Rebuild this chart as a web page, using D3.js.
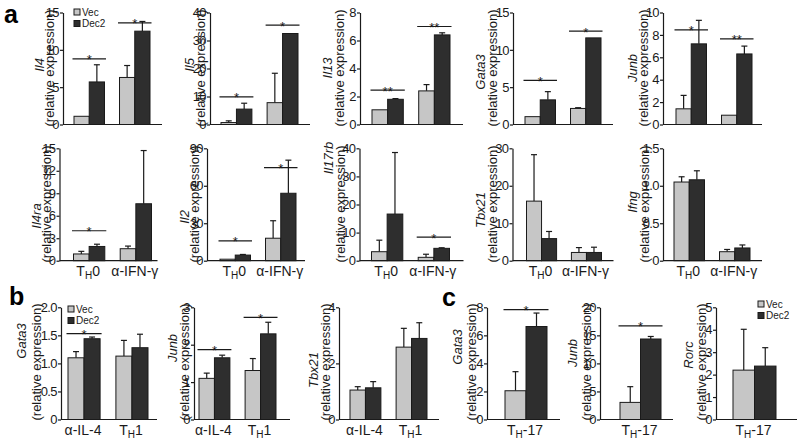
<!DOCTYPE html>
<html><head><meta charset="utf-8">
<script src="https://cdn.jsdelivr.net/npm/d3@7"></script>
<style>
body{margin:0;background:#fff;}
svg{display:block;font-family:"Liberation Sans",Arial,sans-serif;}
</style></head><body>
<svg id="chart" width="800" height="448"></svg>
<script>
// ---------- DATA ----------
const series = ["Vec", "Dec2"];
const groupsA = ["TH0", "α-IFN-γ"];
const groupsB = ["α-IL-4", "TH1"];
const groupsC = ["TH-17"];
const genes = ["Il4","Il5","Il13","Gata3","Junb","Il4ra","Il2","Il17rb","Tbx21","Ifng","Gata3","Junb","Tbx21","Gata3","Junb","Rorc"];
const panelGroups = [groupsA,groupsA,groupsA,groupsA,groupsA,groupsA,groupsA,groupsA,groupsA,groupsA,groupsB,groupsB,groupsB,groupsC,groupsC,groupsC];
const vecMean = [[1.1,6.3],[0.7,7.8],[1.05,2.4],[1.05,2.15],[1.4,0.83],[0.9,1.6],[1.2,18],[3.2,1.2],[15.9,2.2],[1.05,0.12],[1.1,1.13],[1.1,1.31],[1.05,2.58],[2.05],[3.05],[2.2]];
const vecErr  = [[null,7.9],[1.3,18.3],[null,2.85],[null,2.25],[2.6,null],[1.25,1.95],[null,32],[7.3,2.3],[28.3,3.5],[1.12,0.15],[1.21,1.41],[1.24,1.63],[1.17,3.25],[3.41],[5.85],[4.02]];
const dec2Mean = [[5.7,12.5],[5.5,32.5],[1.8,6.4],[3.3,11.6],[7.2,6.3],[1.9,7.6],[4.5,54],[16.6,4.4],[5.9,2.2],[1.08,0.17],[1.44,1.28],[1.65,2.29],[1.13,2.89],[6.63],[14.35],[2.38]];
const dec2Err  = [[8.0,13.8],[7.6,null],[1.85,6.55],[4.4,null],[9.3,7.0],[2.2,14.7],[5,80.5],[38.5,4.6],[7.8,3.6],[1.2,0.21],[1.47,1.52],[1.72,2.6],[1.35,3.45],[7.59],[14.8],[3.2]];
const yMax = [15,40,8,15,10,15,90,40,30,1.5,2.0,3,4,8,20,5];
const yTicks = [[0,5,10,15],[0,10,20,30,40],[0,2,4,6,8],[0,5,10,15],[0,2,4,6,8,10],[0,3,6,9,12,15],[0,30,60,90],[0,10,20,30,40],[0,10,20,30],[0,0.5,1.0,1.5],[0,0.5,1.0,1.5,2.0],[0,1,2,3],[0,2,4],[0,2,4,6,8],[0,5,10,15,20],[0,1,2,3,4,5]];
const yTickLabels = [["0","5","10","15"],["0","10","20","30","40"],["0","2","4","6","8"],["0","5","10","15"],["0","2","4","6","8","10"],["0","3","6","9","12","15"],["0","30","60","90"],["0","10","20","30","40"],["0","10","20","30"],["0","0.5","1.0","1.5"],["0","0.5","1.0","1.5","2.0"],["0","1","2","3"],["0","2","4"],["0","2","4","6","8"],["0","5","10","15","20"],["0","1","2","3","4","5"]];
// significance: [group index, level, label]
const sigMarks = [[[0,8.8,"*"],[1,13.6,"*"]],[[0,9.9,"*"],[1,35.5,"*"]],[[0,2.45,"**"],[1,7.0,"**"]],[[0,5.9,"*"],[1,12.5,"*"]],[[0,8.45,"*"],[1,7.64,"**"]],[[0,4.0,"*"]],[[0,15.9,"*"],[1,74.6,"*"]],[[1,8.4,"*"]],[],[],[[0,1.53,"*"]],[[0,1.87,"*"],[1,2.73,"*"]],[],[[0,7.83,"*"]],[[0,16.7,"*"]],[]];
const panelLetters = ["a","b","c"];

// ---------- LAYOUT ----------
const rowTop = [12.5, 148.3, 307.3];
const rowZero = [124.5, 260.7, 419.5];
const panelRow = [0,0,0,0,0,1,1,1,1,1,2,2,2,2,2,2];
const axisX = [63,210,360,513,663,59.5,207,359.5,512.5,663,61,194,339,487,600,716];
const bandStart = [11,11,12,12,13,14,13,12,14,11,7,5,11,18,20,17];
const bandEnd = [87,88,90,88,89,92,89,90,89,87,87,82,88,60,61,60];
const axisLen = [99,100,103,100,99,98,98,104,101,99,96,96,100,73,73,81];
const exprOff = [-14,-10,-21,-21,-20,-13,-13,-19,-20,-19,-25,-10,-14,-16,-14,-15];
const geneOff = [-24,-21,-33,-33,-31,-23,-23,-31,-32,-31,-40,-22,-26,-30,-28,-28];
const geneY = [65,65,68,72,68,216,217,158,210,202,341,348,370,347,353,355];
const exprY = [68,68,68,68,68,204,204,204,204,204,362,362,362,362,362,362];
const showCats = [false,false,false,false,false,true,true,true,true,true,true,true,true,true,true,true];
const colors = {Vec:"#c6c6c6", Dec2:"#2e2e2e"};
const ink = "#1a1a1a";

const svg = d3.select("#chart");

function catLabel(sel, label) {
  if (label.startsWith("TH")) {
    sel.append("tspan").text("T");
    sel.append("tspan").attr("font-size", 10).attr("dy", 3).text("H");
    sel.append("tspan").attr("dy", -3).text(label.slice(2));
  } else {
    sel.text(label);
  }
}

genes.forEach((gene, i) => {
  const r = panelRow[i];
  const g = svg.append("g");
  const y = d3.scaleLinear().domain([0, yMax[i]]).range([rowZero[r], rowTop[r]]);
  const groups = panelGroups[i];
  const x = d3.scaleBand().domain(groups)
    .range([axisX[i] + bandStart[i], axisX[i] + bandEnd[i]])
    .paddingInner(groups.length > 1 ? 0.33 : 0).paddingOuter(0);
  const xs = d3.scaleBand().domain(series).range([0, x.bandwidth()]);

  const rows = [];
  groups.forEach((gr, j) => {
    rows.push({group: gr, s: "Vec", v: vecMean[i][j], e: vecErr[i][j]});
    rows.push({group: gr, s: "Dec2", v: dec2Mean[i][j], e: dec2Err[i][j]});
  });

  // y labels (behind everything else)
  g.append("text").attr("transform", `translate(${axisX[i] + geneOff[i]},${geneY[i]}) rotate(-90)`)
    .attr("text-anchor", "middle").attr("dy", "0.35em").attr("font-size", 13)
    .attr("font-style", "italic").attr("fill", ink).text(gene);
  g.append("text").attr("transform", `translate(${axisX[i] + exprOff[i]},${exprY[i]}) rotate(-90)`)
    .attr("text-anchor", "middle").attr("dy", "0.35em").attr("font-size", 13)
    .attr("fill", ink).text("(relative expression)");

  // error bars
  rows.forEach(d => {
    if (d.e == null || d.e <= d.v) return;
    const cx = x(d.group) + xs(d.s) + xs.bandwidth() / 2;
    g.append("line").attr("x1", cx).attr("x2", cx).attr("y1", y(d.v)).attr("y2", y(d.e))
      .attr("stroke", ink).attr("stroke-width", 1.2);
    g.append("line").attr("x1", cx - 3).attr("x2", cx + 3).attr("y1", y(d.e)).attr("y2", y(d.e))
      .attr("stroke", ink).attr("stroke-width", 1.2);
  });

  // bars
  g.selectAll("rect.bar").data(rows).join("rect")
    .attr("x", d => x(d.group) + xs(d.s))
    .attr("y", d => y(d.v))
    .attr("width", xs.bandwidth())
    .attr("height", d => y(0) - y(d.v))
    .attr("fill", d => colors[d.s])
    .attr("stroke", ink).attr("stroke-width", 1);

  // y axis
  const ax = g.append("g").attr("transform", `translate(${axisX[i]},0)`)
    .call(d3.axisLeft(y).tickValues(yTicks[i]).tickFormat((d, k) => yTickLabels[i][k])
      .tickSize(3).tickSizeOuter(0).tickPadding(1));
  ax.select(".domain").attr("stroke", ink).attr("stroke-width", 1.2);
  ax.selectAll(".tick line").attr("stroke", ink).attr("stroke-width", 1.2);
  ax.selectAll(".tick text").attr("font-size", 13).attr("fill", ink)
    .attr("letter-spacing", "-0.6px")
    .attr("font-family", "'Liberation Sans', Arial, sans-serif");

  // x axis line
  g.append("line").attr("x1", axisX[i]).attr("x2", axisX[i] + axisLen[i])
    .attr("y1", y(0)).attr("y2", y(0)).attr("stroke", ink).attr("stroke-width", 1.2);

  // significance
  sigMarks[i].forEach(([gi, lvl, lab]) => {
    const gr = groups[gi];
    const x0 = x(gr) - 1.5, x1 = x(gr) + x.bandwidth() + 1.5;
    g.append("line").attr("x1", x0).attr("x2", x1).attr("y1", y(lvl)).attr("y2", y(lvl))
      .attr("stroke", ink).attr("stroke-width", 1.2);
    g.append("text").attr("x", (x0 + x1) / 2).attr("y", y(lvl) + 5.5)
      .attr("text-anchor", "middle").attr("font-size", 13).attr("fill", ink).text(lab);
  });

  // category labels
  if (showCats[i]) {
    groups.forEach(gr => {
      const t = g.append("text").attr("x", x(gr) + x.bandwidth() / 2 - 1).attr("y", rowZero[r] + 15)
        .attr("text-anchor", "middle").attr("font-size", 14).attr("fill", ink);
      catLabel(t, gr);
    });
  }
});

// legends
const legendPos = [[74, 12], [68, 309], [758, 304]];
const legendStep = [11.5, 11.5, 11.5];
legendPos.forEach(([lx, ly], k) => {
  series.forEach((s, j) => {
    const yy = ly + j * legendStep[k];
    svg.append("rect").attr("x", lx).attr("y", yy - 3).attr("width", 6).attr("height", 6)
      .attr("fill", colors[s]).attr("stroke", ink).attr("stroke-width", 1);
    svg.append("text").attr("x", lx + 8).attr("y", yy + 3.5).attr("font-size", 10)
      .attr("fill", ink).text(s);
  });
});

// panel letters
const letterPos = [[4, 23], [9, 305], [442, 306]];
panelLetters.forEach((l, k) => {
  svg.append("text").attr("x", letterPos[k][0]).attr("y", letterPos[k][1])
    .attr("font-size", 25).attr("font-weight", "bold").attr("fill", "#000").text(l);
});
</script>
</body></html>
